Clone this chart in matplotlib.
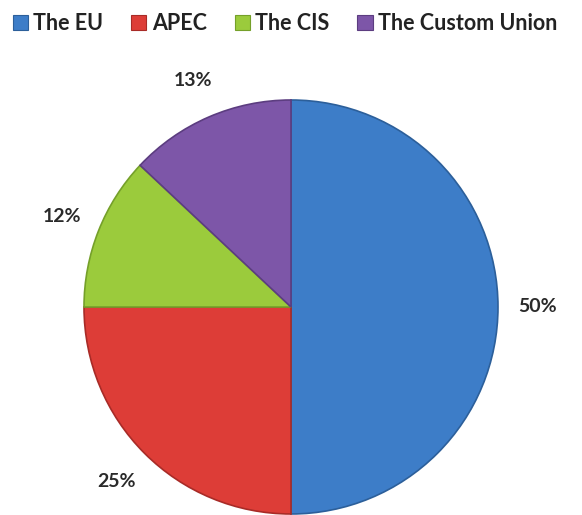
import matplotlib
matplotlib.use('Agg')
import matplotlib.pyplot as plt
from matplotlib.patches import Patch

labels = ['The EU', 'APEC', 'The CIS', 'The Custom Union']
values = [50, 25, 12, 13]
colors = ['#3d7dc8', '#dd3d37', '#9bcb3c', '#7d56a8']
edges = ['#2c5f9a', '#a82b27', '#75a02a', '#5c3d80']

plt.rcParams['font.family'] = ['Lato', 'DejaVu Sans']

fig = plt.figure(figsize=(5.82, 5.15), dpi=100)
ax = fig.add_axes([0, 0, 1, 1])

# pie centre in pixels from the bottom left
wedges, texts, autotexts = ax.pie(
    values, colors=colors, startangle=90, counterclock=False,
    center=(291, 208), radius=207, frame=True,
    autopct='%1.0f%%', pctdistance=1.19,
    textprops=dict(fontsize=14, fontweight='bold', color='#2a2a2a'))
for w, e in zip(wedges, edges):
    w.set_edgecolor(e)
    w.set_linewidth(1.2)

ax.set_xlim(0, 582)
ax.set_ylim(0, 515)
ax.set_aspect('equal')
ax.axis('off')

handles = [Patch(facecolor=c, edgecolor=e, linewidth=0.8) for c, e in zip(colors, edges)]
fig.legend(handles, labels, loc='upper left', bbox_to_anchor=(0.0, 1.0),
           ncol=4, frameon=False, handlelength=0.7, handleheight=0.7,
           handletextpad=0.25, columnspacing=1.3, borderaxespad=0.2,
           prop=dict(size=15.5, weight='bold'), labelcolor='#222222')

fig.savefig('out.png', dpi=100)
